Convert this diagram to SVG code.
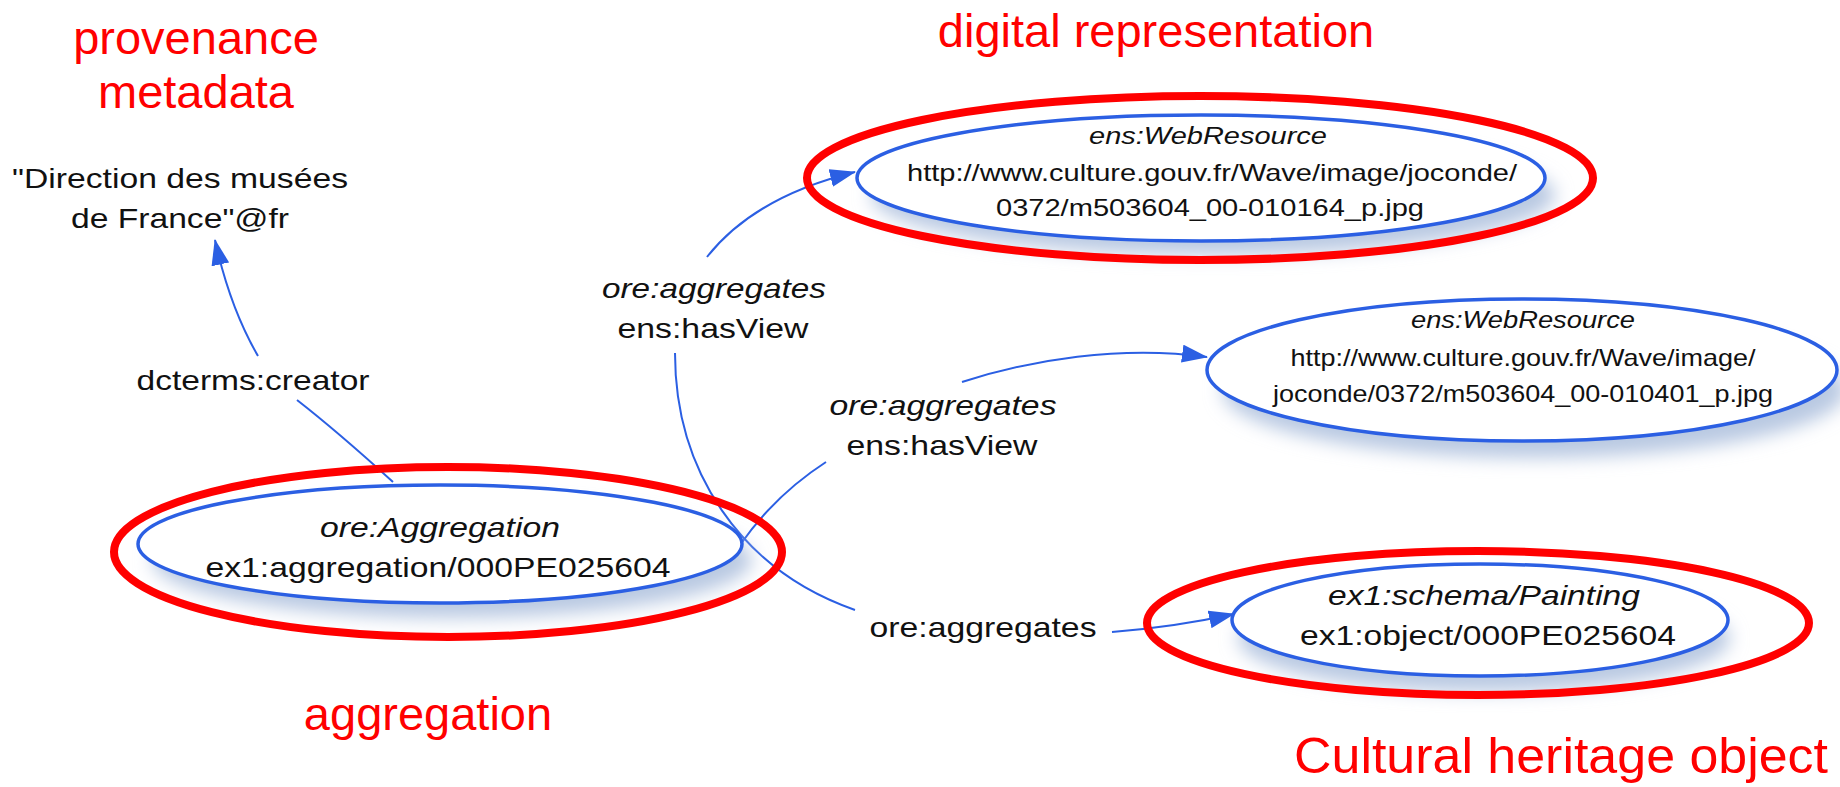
<svg xmlns="http://www.w3.org/2000/svg" width="1840" height="787" viewBox="0 0 1840 787">
<defs>
<style>
.red{font-family:"Liberation Sans",Arial,sans-serif;fill:#ff0000;font-size:47px;text-anchor:middle}
.t{font-family:"Liberation Sans",Arial,sans-serif;fill:#111;font-size:28px;text-anchor:middle}
.s{font-family:"Liberation Sans",Arial,sans-serif;fill:#111;font-size:24px;text-anchor:middle}
.i{font-style:italic}
.node{fill:#fff;stroke:#2b5fe3;stroke-width:3.5}
.ring{fill:none;stroke:#ff0000;stroke-width:8}
.shadow{fill:#b9c9e2;filter:url(#blur)}
.edge{fill:none;stroke:#2b5fe3;stroke-width:2}
.arr{fill:none;stroke:#2b5fe3;stroke-width:2;marker-end:url(#ah)}
</style>
<filter id="blur" x="-20%" y="-40%" width="140%" height="180%"><feGaussianBlur stdDeviation="9"/></filter>
<marker id="ah" markerUnits="userSpaceOnUse" markerWidth="26" markerHeight="18" viewBox="0 0 26 18" refX="25" refY="9" orient="auto"><path d="M0,0 L26,9 L0,18 z" fill="#2b5fe3"/></marker>
</defs>
<rect width="1840" height="787" fill="#fff"/>

<g id="annotations">
<text class="red" x="196" y="54">provenance</text>
<text class="red" x="196" y="108">metadata</text>
<text class="red" x="1156" y="47">digital representation</text>
<text class="red" x="428" y="730">aggregation</text>
<text class="red" x="1561" y="773" style="font-size:50px" textLength="534" lengthAdjust="spacingAndGlyphs">Cultural heritage object</text>
</g>

<g id="node-creator">
<text class="t" x="180" y="188" textLength="336" lengthAdjust="spacingAndGlyphs">"Direction des musées</text>
<text class="t" x="180" y="228" textLength="218" lengthAdjust="spacingAndGlyphs">de France"@fr</text>
</g>

<g id="connectors">
<path class="arr" d="M258,356 C240,325 226,290 215,240"/>
<path class="edge" d="M297,400 Q338,432 393,482"/>
<path class="arr" d="M707,257 C740,215 790,188 855,172"/>
<path class="edge" d="M675,353 C675,470 740,570 855,610"/>
<path class="edge" d="M740,545 Q775,495 826,462"/>
<path class="arr" d="M962,382 C1030,360 1120,345 1207,357"/>
<path class="arr" d="M1112,632 Q1175,627 1234,614"/>
</g>

<g id="labels">
<text class="t" x="253" y="390" textLength="233" lengthAdjust="spacingAndGlyphs">dcterms:creator</text>
<text class="t i" x="714" y="298" textLength="224" lengthAdjust="spacingAndGlyphs">ore:aggregates</text>
<text class="t" x="713" y="338" textLength="191" lengthAdjust="spacingAndGlyphs">ens:hasView</text>
<text class="t i" x="943" y="415" textLength="227" lengthAdjust="spacingAndGlyphs">ore:aggregates</text>
<text class="t" x="942" y="455" textLength="191" lengthAdjust="spacingAndGlyphs">ens:hasView</text>
<text class="t" x="983" y="637" textLength="227" lengthAdjust="spacingAndGlyphs">ore:aggregates</text>
</g>

<g id="node-aggregation">
<ellipse class="shadow" cx="452" cy="560" rx="300" ry="58"/>
<ellipse class="node" cx="440" cy="544" rx="302" ry="59"/>
<text class="t i" x="440" y="537" textLength="240" lengthAdjust="spacingAndGlyphs">ore:Aggregation</text>
<text class="t" x="438" y="577" textLength="465" lengthAdjust="spacingAndGlyphs">ex1:aggregation/000PE025604</text>
<ellipse class="ring" cx="448" cy="552" rx="334" ry="85"/>
</g>

<g id="node-webresource1">
<ellipse class="shadow" cx="1213" cy="195" rx="342" ry="60"/>
<ellipse class="node" cx="1201" cy="178" rx="344" ry="63"/>
<text class="s i" x="1208" y="144" textLength="238" lengthAdjust="spacingAndGlyphs">ens:WebResource</text>
<text class="s" x="1212" y="181" textLength="610" lengthAdjust="spacingAndGlyphs">http://www.culture.gouv.fr/Wave/image/joconde/</text>
<text class="s" x="1210" y="216" textLength="428" lengthAdjust="spacingAndGlyphs">0372/m503604_00-010164_p.jpg</text>
<ellipse class="ring" cx="1200" cy="178" rx="393" ry="82"/>
</g>

<g id="node-webresource2">
<ellipse class="shadow" cx="1534" cy="390" rx="312" ry="68"/>
<ellipse class="node" cx="1522" cy="370" rx="315" ry="71"/>
<text class="s i" x="1523" y="328" textLength="224" lengthAdjust="spacingAndGlyphs">ens:WebResource</text>
<text class="s" x="1523" y="366" textLength="465" lengthAdjust="spacingAndGlyphs">http://www.culture.gouv.fr/Wave/image/</text>
<text class="s" x="1523" y="402" textLength="500" lengthAdjust="spacingAndGlyphs">joconde/0372/m503604_00-010401_p.jpg</text>
</g>

<g id="node-painting">
<ellipse class="shadow" cx="1484" cy="638" rx="246" ry="54"/>
<ellipse class="node" cx="1480" cy="620" rx="248" ry="56"/>
<text class="t i" x="1484" y="605" textLength="312" lengthAdjust="spacingAndGlyphs">ex1:schema/Painting</text>
<text class="t" x="1488" y="645" textLength="376" lengthAdjust="spacingAndGlyphs">ex1:object/000PE025604</text>
<ellipse class="ring" cx="1478" cy="623" rx="331" ry="72"/>
</g>
</svg>
